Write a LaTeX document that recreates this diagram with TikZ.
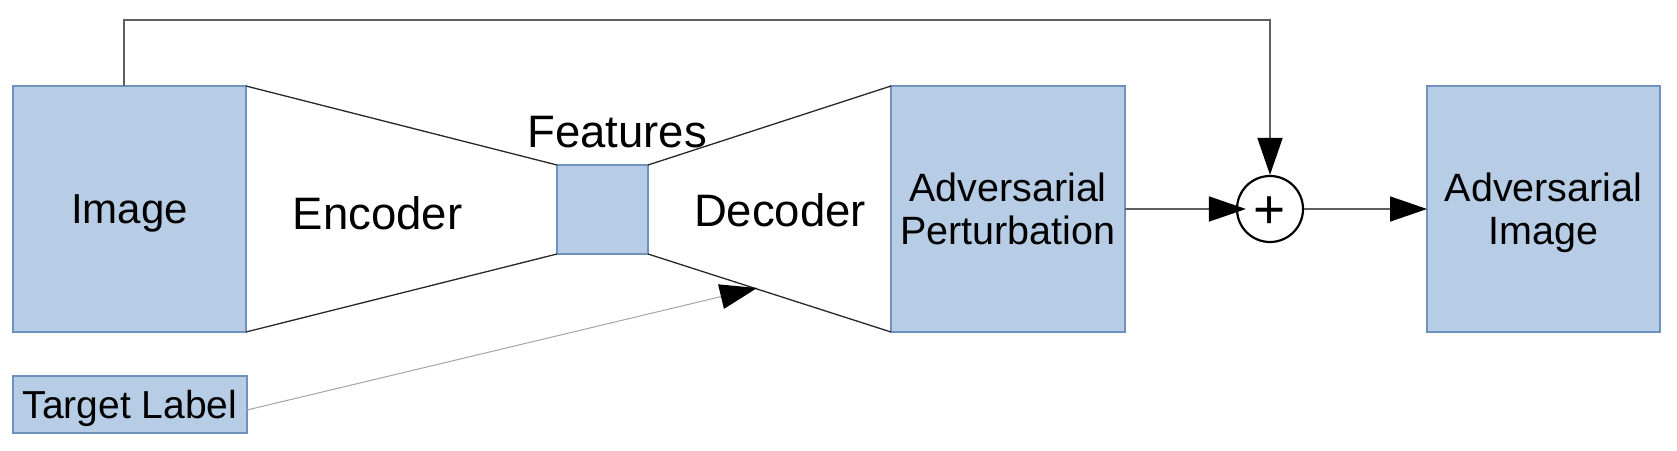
\documentclass[tikz,border=0pt]{standalone}
\usepackage{fontspec}
\setmainfont{Liberation Sans}
\usetikzlibrary{arrows.meta}
\definecolor{boxfill}{RGB}{183,205,230}
\definecolor{boxline}{RGB}{110,145,190}
\definecolor{trapline}{RGB}{40,40,40}
\definecolor{connline}{RGB}{95,95,95}
\definecolor{faintline}{RGB}{165,165,165}
\begin{document}
\begin{tikzpicture}[x=1pt,y=-1pt,
  box/.style={draw=boxline, fill=boxfill, line width=1.3pt, inner sep=0pt, outer sep=0pt,
    align=center, font=\fontsize{39.5}{43}\selectfont},
  biglabel/.style={anchor=base, inner sep=0pt, font=\fontsize{45.5}{50}\selectfont},
  trap/.style={draw=trapline, line width=1.3pt},
  conn/.style={draw=connline, line width=1.6pt},
  faint/.style={draw=faintline, line width=1pt},
  bigtip/.style={-{Triangle[length=37pt,width=25pt,color=black]}}
]
\path[fill=white, use as bounding box] (0,0) rectangle (1677,450);

% boxes
\node[box, minimum width=233pt, minimum height=246pt, text depth=0pt,
      font=\fontsize{42}{46}\selectfont] (img) at (129.5,209) {Image};
\node[box, minimum width=234pt, minimum height=57pt, text depth=0pt,
      font=\fontsize{39}{43}\selectfont] (tgt) at (130,404.5) {Target Label};
\node[box, minimum width=91pt, minimum height=89pt] (feat) at (602.5,209.5) {};
\node[box, minimum width=234pt, minimum height=246pt] (pert) at (1008,209) {Adversarial\\Perturbation};
\node[box, minimum width=233pt, minimum height=246pt] (advimg) at (1543.5,209) {Adversarial\\\smash{Image}};
\node[draw=black, circle, line width=2.2pt, minimum size=66pt, inner sep=0pt,
      text height=38.6pt, text depth=0pt,
      font=\fontsize{55}{55}\selectfont] (sum) at (1270,209) {+};

% free labels
\node[biglabel] (enc) at (377.5,229) {Encoder};
\node[biglabel] (dec) at (780,226) {Decoder};
\node[biglabel] (featlbl) at (617,147) {Features};

% encoder / decoder outlines
\draw[trap] (img.north east) -- (feat.north west);
\draw[trap] (img.south east) -- (feat.south west);
\draw[trap] (feat.north east) -- (pert.north west);
\draw[trap] (feat.south east) -- (pert.south west);

% connectors
\coordinate (tip) at (757,288);
\draw[conn, bigtip] ([xshift=-5.5pt]img.north) -- ++(0,-66) -| (sum.north);
\draw[conn, bigtip, shorten >=-10pt] (pert.east) -- (sum.west);
\draw[conn, bigtip] (sum.east) -- (advimg.west);
\draw[faint, bigtip] ([yshift=-5.5pt]tgt.east) -- (tip);
\end{tikzpicture}
\end{document}
